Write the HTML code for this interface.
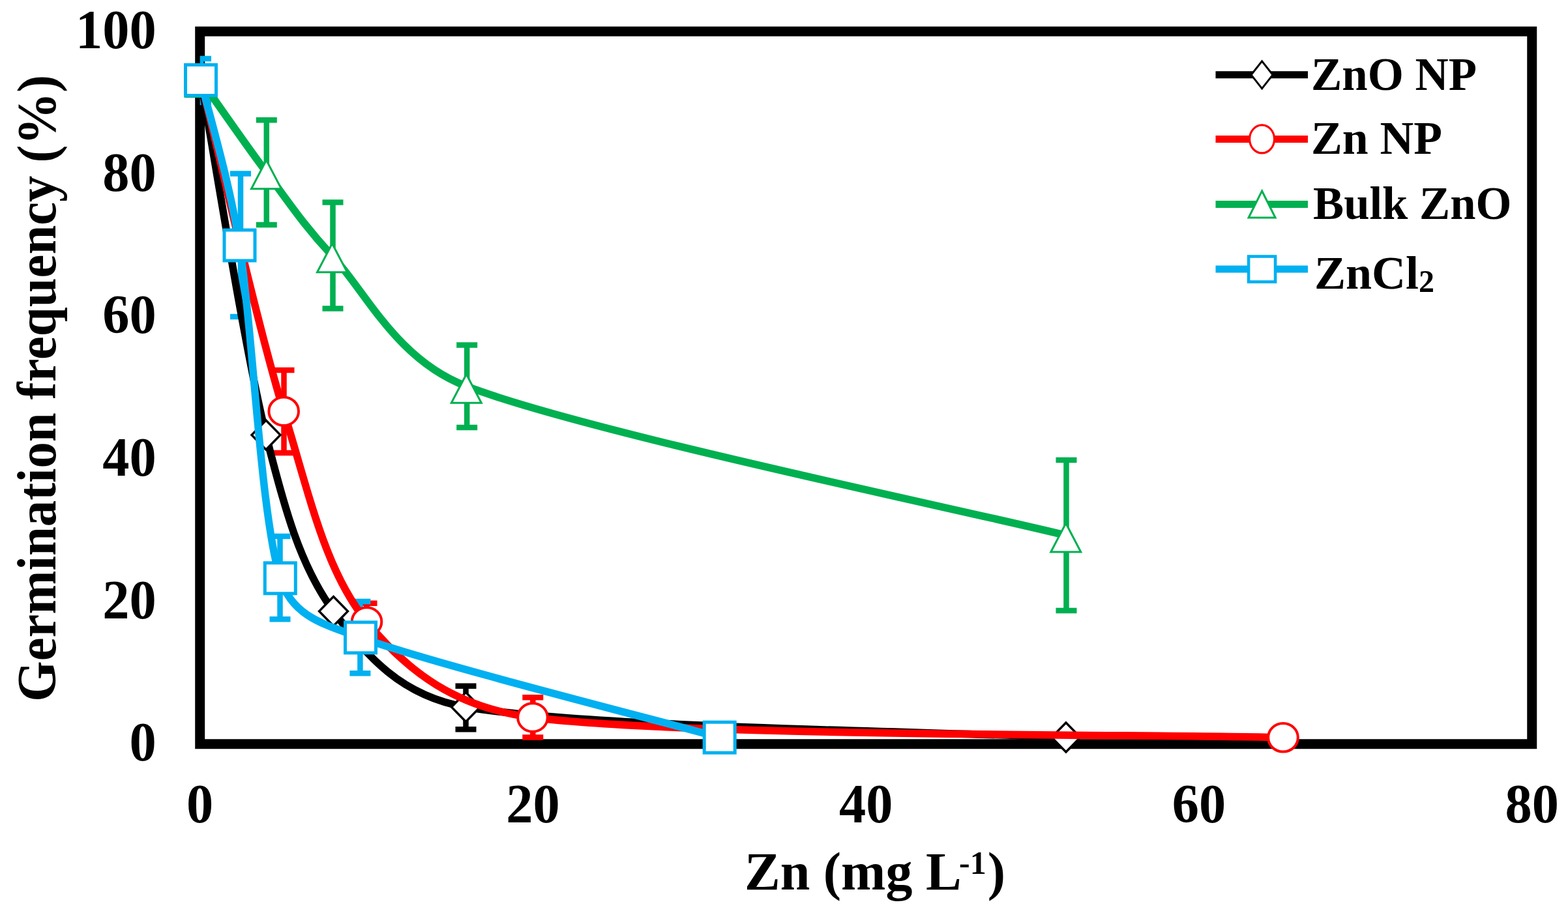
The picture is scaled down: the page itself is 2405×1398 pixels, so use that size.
<!DOCTYPE html>
<html><head><meta charset="utf-8"><title>Germination frequency chart</title>
<style>html,body{margin:0;padding:0;background:#fff;overflow:hidden}svg{display:block}</style>
</head><body>
<svg width="2405" height="1398" viewBox="0 0 2405 1398">
<defs><clipPath id="pa"><rect x="306.7" y="0" width="2043.05" height="1141.75"/></clipPath></defs>
<rect width="2405" height="1398" fill="#fff"/>
<rect x="306.7" y="48.2" width="2043.05" height="1093.55" fill="none" stroke="#000" stroke-width="15"/>
<g clip-path="url(#pa)"><path d="M714.5,1052.8 V1119.3 M698.5,1052.8 H730.5 M698.5,1119.3 H730.5" stroke="#000000" stroke-width="8.5" fill="none"/><path d="M435.5,568 V695 M419.5,568 H451.5 M419.5,695 H451.5" stroke="#FF0000" stroke-width="8.5" fill="none"/><path d="M562.5,925.7 V982 M546.5,925.7 H578.5 M546.5,982 H578.5" stroke="#FF0000" stroke-width="8.5" fill="none"/><path d="M817.3,1070.3 V1131.6 M801.3,1070.3 H833.3 M801.3,1131.6 H833.3" stroke="#FF0000" stroke-width="8.5" fill="none"/><path d="M408.8,184.3 V345 M392.8,184.3 H424.8 M392.8,345 H424.8" stroke="#00B050" stroke-width="8.5" fill="none"/><path d="M510.5,310.5 V473.5 M494.5,310.5 H526.5 M494.5,473.5 H526.5" stroke="#00B050" stroke-width="8.5" fill="none"/><path d="M716.2,529.4 V656 M700.2,529.4 H732.2 M700.2,656 H732.2" stroke="#00B050" stroke-width="8.5" fill="none"/><path d="M1635.5,706 V937 M1619.5,706 H1651.5 M1619.5,937 H1651.5" stroke="#00B050" stroke-width="8.5" fill="none"/><path d="M308,90 V157 M292.0,90 H324.0 M292.0,157 H324.0" stroke="#00B0F0" stroke-width="8.5" fill="none"/><path d="M369,266.5 V486 M353.0,266.5 H385.0 M353.0,486 H385.0" stroke="#00B0F0" stroke-width="8.5" fill="none"/><path d="M429.5,823 V950.3 M413.5,823 H445.5 M413.5,950.3 H445.5" stroke="#00B0F0" stroke-width="8.5" fill="none"/><path d="M552.4,923 V1033.3 M536.4,923 H568.4 M536.4,1033.3 H568.4" stroke="#00B0F0" stroke-width="8.5" fill="none"/></g>
<g><path d="M308.00,123.00 C324.67,213.75 374.08,531.67 408.00,667.50 C436.07,779.90 460.42,868.42 511.50,938.00 C562.58,1007.58 615.70,1067.98 714.50,1085.00 C901.75,1117.25 1481.58,1123.75 1635.00,1131.50" stroke="#000000" stroke-width="11.5" fill="none" stroke-linecap="round" stroke-linejoin="round"/><path d="M308,100.5 L330,123 L308,145.5 L286,123 Z" fill="#fff" stroke="#000000" stroke-width="3.4" stroke-linejoin="miter"/><path d="M408,645.0 L430,667.5 L408,690.0 L386,667.5 Z" fill="#fff" stroke="#000000" stroke-width="3.4" stroke-linejoin="miter"/><path d="M511.5,915.5 L533.5,938 L511.5,960.5 L489.5,938 Z" fill="#fff" stroke="#000000" stroke-width="3.4" stroke-linejoin="miter"/><path d="M714.5,1062.5 L736.5,1085 L714.5,1107.5 L692.5,1085 Z" fill="#fff" stroke="#000000" stroke-width="3.4" stroke-linejoin="miter"/><path d="M1635,1109.0 L1657,1131.5 L1635,1154.0 L1613,1131.5 Z" fill="#fff" stroke="#000000" stroke-width="3.4" stroke-linejoin="miter"/></g>
<g><path d="M308.00,123.00 C329.20,207.70 392.78,492.70 435.20,631.20 C475.84,763.91 498.87,875.70 562.50,954.00 C626.13,1032.30 700.37,1086.25 817.00,1101.00 C1051.25,1130.63 1776.17,1126.67 1968.00,1131.80" stroke="#FF0000" stroke-width="11.5" fill="none" stroke-linecap="round" stroke-linejoin="round"/><ellipse cx="308" cy="123" rx="22.8" ry="21.8" fill="#fff" stroke="#FF0000" stroke-width="4"/><ellipse cx="435.2" cy="631.2" rx="22.8" ry="21.8" fill="#fff" stroke="#FF0000" stroke-width="4"/><ellipse cx="562.5" cy="954" rx="22.8" ry="21.8" fill="#fff" stroke="#FF0000" stroke-width="4"/><ellipse cx="817" cy="1101" rx="22.8" ry="21.8" fill="#fff" stroke="#FF0000" stroke-width="4"/><ellipse cx="1968" cy="1131.8" rx="22.8" ry="21.8" fill="#fff" stroke="#FF0000" stroke-width="4"/></g>
<g><path d="M308.00,123.00 C324.75,146.53 374.92,219.32 408.50,264.20 C442.08,309.08 464.96,344.61 509.50,392.30 C560.63,447.05 607.94,551.75 715.30,592.70 C902.85,664.23 1481.55,783.37 1634.80,821.50" stroke="#00B050" stroke-width="11.5" fill="none" stroke-linecap="round" stroke-linejoin="round"/><path d="M308,104.5 L331,148.5 L285,148.5 Z" fill="#fff" stroke="#00B050" stroke-width="3" stroke-linejoin="miter"/><path d="M408.5,245.7 L431.5,289.7 L385.5,289.7 Z" fill="#fff" stroke="#00B050" stroke-width="3" stroke-linejoin="miter"/><path d="M509.5,373.8 L532.5,417.8 L486.5,417.8 Z" fill="#fff" stroke="#00B050" stroke-width="3" stroke-linejoin="miter"/><path d="M715.3,574.2 L738.3,618.2 L692.3,618.2 Z" fill="#fff" stroke="#00B050" stroke-width="3" stroke-linejoin="miter"/><path d="M1634.8,803.0 L1657.8,847.0 L1611.8,847.0 Z" fill="#fff" stroke="#00B050" stroke-width="3" stroke-linejoin="miter"/></g>
<g><path d="M308.00,123.00 C317.92,165.25 351.11,273.64 367.50,376.50 C387.80,503.88 398.88,786.98 429.80,887.30 C447.85,945.87 495.38,957.50 553.00,978.40 C665.32,1019.13 1011.92,1106.15 1103.70,1131.70" stroke="#00B0F0" stroke-width="11.5" fill="none" stroke-linecap="round" stroke-linejoin="round"/><rect x="284.5" y="99.5" width="47.0" height="47.0" fill="#fff" stroke="#00B0F0" stroke-width="5"/><rect x="344.0" y="353.0" width="47.0" height="47.0" fill="#fff" stroke="#00B0F0" stroke-width="5"/><rect x="406.3" y="863.8" width="47.0" height="47.0" fill="#fff" stroke="#00B0F0" stroke-width="5"/><rect x="529.5" y="954.9" width="47.0" height="47.0" fill="#fff" stroke="#00B0F0" stroke-width="5"/><rect x="1080.2" y="1108.2" width="47.0" height="47.0" fill="#fff" stroke="#00B0F0" stroke-width="5"/></g>
<text transform="translate(239.6,1167.3) scale(0.97,1)" font-family="'Liberation Serif','Times New Roman',serif" font-weight="bold" font-size="85" text-anchor="end">0</text>
<text transform="translate(239.6,948.6) scale(0.97,1)" font-family="'Liberation Serif','Times New Roman',serif" font-weight="bold" font-size="85" text-anchor="end">20</text>
<text transform="translate(239.6,729.9) scale(0.97,1)" font-family="'Liberation Serif','Times New Roman',serif" font-weight="bold" font-size="85" text-anchor="end">40</text>
<text transform="translate(239.6,511.2) scale(0.97,1)" font-family="'Liberation Serif','Times New Roman',serif" font-weight="bold" font-size="85" text-anchor="end">60</text>
<text transform="translate(239.6,292.5) scale(0.97,1)" font-family="'Liberation Serif','Times New Roman',serif" font-weight="bold" font-size="85" text-anchor="end">80</text>
<text transform="translate(239.6,73.8) scale(0.97,1)" font-family="'Liberation Serif','Times New Roman',serif" font-weight="bold" font-size="85" text-anchor="end">100</text>
<text transform="translate(306.7,1261.8) scale(0.97,1)" font-family="'Liberation Serif','Times New Roman',serif" font-weight="bold" font-size="85" text-anchor="middle">0</text>
<text transform="translate(817.5,1261.8) scale(0.97,1)" font-family="'Liberation Serif','Times New Roman',serif" font-weight="bold" font-size="85" text-anchor="middle">20</text>
<text transform="translate(1328.2,1261.8) scale(0.97,1)" font-family="'Liberation Serif','Times New Roman',serif" font-weight="bold" font-size="85" text-anchor="middle">40</text>
<text transform="translate(1839.0,1261.8) scale(0.97,1)" font-family="'Liberation Serif','Times New Roman',serif" font-weight="bold" font-size="85" text-anchor="middle">60</text>
<text transform="translate(2349.8,1261.8) scale(0.97,1)" font-family="'Liberation Serif','Times New Roman',serif" font-weight="bold" font-size="85" text-anchor="middle">80</text>
<text transform="translate(84.5,1077) rotate(-90)" x="0" y="0" font-family="'Liberation Serif','Times New Roman',serif" font-weight="bold" font-size="84.5" textLength="962" lengthAdjust="spacingAndGlyphs">Germination frequency (%)</text>
<text x="1142" y="1365.2" font-family="'Liberation Serif','Times New Roman',serif" font-weight="bold" font-size="82">Zn (mg L<tspan font-size="50" dx="-3.5" dy="-24">-1</tspan><tspan dx="2" dy="24">)</tspan></text>
<line x1="1864.5" y1="114.85" x2="2006" y2="114.85" stroke="#000000" stroke-width="11"/>
<path d="M1935.6,93.85 L1952.1,114.85 L1935.6,135.85 L1919.1,114.85 Z" fill="#fff" stroke="#000000" stroke-width="3" stroke-linejoin="miter"/>
<text x="2011" y="137.5" font-family="'Liberation Serif','Times New Roman',serif" font-weight="bold" font-size="72" textLength="254" lengthAdjust="spacingAndGlyphs">ZnO NP</text>
<line x1="1864.5" y1="213.4" x2="2006" y2="213.4" stroke="#FF0000" stroke-width="11"/>
<ellipse cx="1935.6" cy="213.4" rx="19" ry="21.5" fill="#fff" stroke="#FF0000" stroke-width="3.2"/>
<text x="2011" y="235.7" font-family="'Liberation Serif','Times New Roman',serif" font-weight="bold" font-size="72" textLength="201" lengthAdjust="spacingAndGlyphs">Zn NP</text>
<line x1="1864.5" y1="313.5" x2="2006" y2="313.5" stroke="#00B050" stroke-width="11"/>
<path d="M1935.6,293.0 L1956.1,334.0 L1915.1,334.0 Z" fill="#fff" stroke="#00B050" stroke-width="3" stroke-linejoin="miter"/>
<text x="2014" y="336.2" font-family="'Liberation Serif','Times New Roman',serif" font-weight="bold" font-size="72" textLength="304.5" lengthAdjust="spacingAndGlyphs">Bulk ZnO</text>
<line x1="1864.5" y1="413" x2="2006" y2="413" stroke="#00B0F0" stroke-width="11"/>
<rect x="1915.1" y="393.5" width="41.0" height="39.0" fill="#fff" stroke="#00B0F0" stroke-width="4.6"/>
<text x="2016" y="443.2" font-family="'Liberation Serif','Times New Roman',serif" font-weight="bold" font-size="72">ZnCl<tspan font-size="48" dy="5">2</tspan></text>
</svg>
</body></html>
